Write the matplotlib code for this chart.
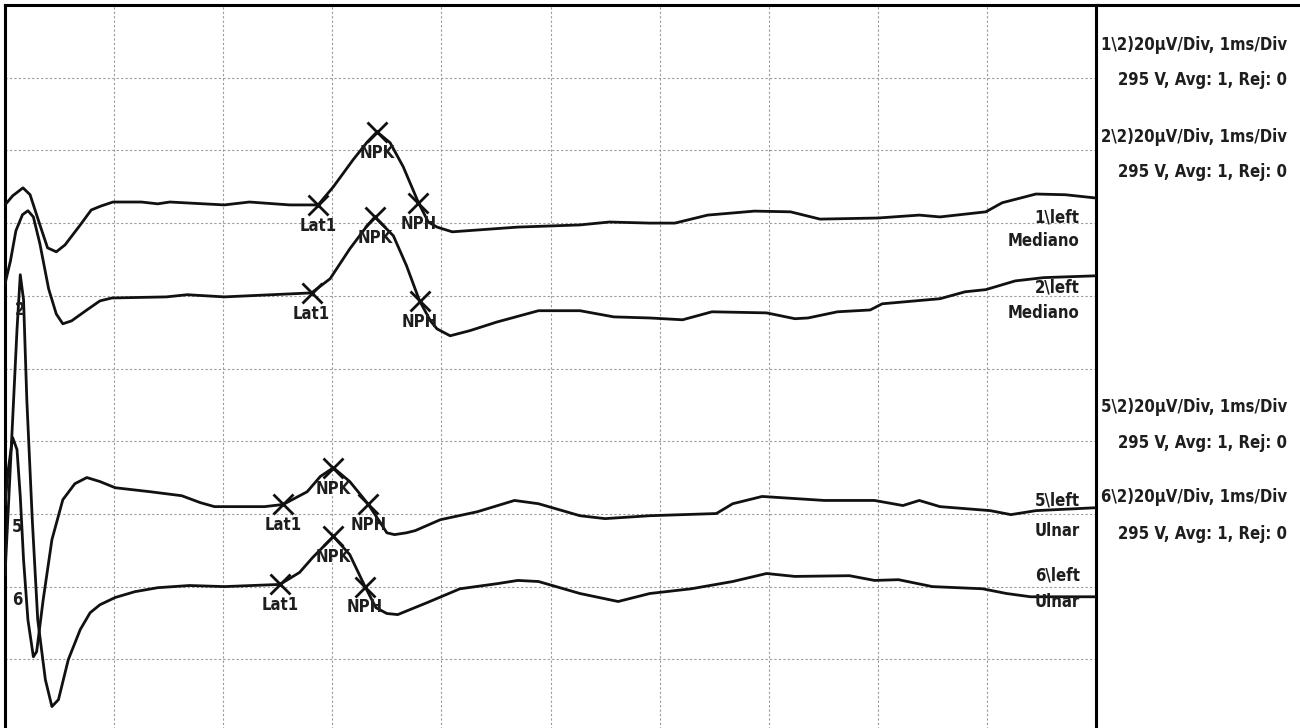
import numpy as np
import matplotlib
matplotlib.use("Agg")
import matplotlib.pyplot as plt
from matplotlib.lines import Line2D
from matplotlib import font_manager as fm

# time in ms, amplitude in uV (20 uV/div, 1 ms/div)
t1 = [0.0, 0.07, 0.165, 0.23, 0.32, 0.39, 0.47, 0.55, 0.69, 0.79, 0.88, 0.99, 1.25, 1.40, 1.51,
      2.01, 2.24, 2.61, 2.87, 3.01, 3.19, 3.32, 3.41, 3.53, 3.65, 3.79, 3.88, 3.96, 4.10, 4.33,
      4.70, 5.27, 5.54, 5.91, 6.14, 6.44, 6.87, 7.20, 7.47, 8.00, 8.38, 8.57, 8.99, 9.14, 9.45,
      9.72, 10.0]
v1 = [0, 2.5, 4.7, 2.8, -5.5, -11.8, -12.9, -11.0, -5.5, -1.4, -0.3, 0.8, 0.8, 0.3, 0.8,
      0, 0.8, 0, 0, 5.0, 12.4, 17.3, 20.1, 17.1, 10.5, 0.6, -4.7, -6.1, -7.4, -6.9,
      -6.1, -5.5, -4.7, -5.0, -5.0, -2.8, -1.7, -1.9, -3.9, -3.6, -2.8, -3.3, -1.9, 0.6, 3.0,
      2.8, 1.9]

t2 = [0.0, 0.05, 0.10, 0.16, 0.21, 0.26, 0.32, 0.40, 0.47, 0.53, 0.61, 0.75, 0.87, 0.98, 1.48,
      1.67, 2.01, 2.81, 2.98, 3.16, 3.32, 3.39, 3.56, 3.68, 3.80, 3.90, 3.96, 4.08, 4.26, 4.51,
      4.89, 5.27, 5.58, 5.91, 6.21, 6.48, 6.98, 7.24, 7.36, 7.63, 7.93, 8.04, 8.57, 8.80, 8.99,
      9.26, 9.52, 10.0]
v2 = [3.3, 9.6, 17.9, 22.3, 23.4, 21.7, 14.3, 1.9, -5.0, -7.7, -6.9, -3.9, -1.4, -0.6, -0.3,
      0.3, -0.3, 0.8, 4.7, 12.9, 19.3, 21.7, 16.5, 8.3, -1.4, -6.9, -9.1, -11.0, -9.6, -7.2,
      -4.1, -4.1, -5.8, -6.1, -6.6, -4.4, -4.7, -6.3, -6.1, -4.4, -3.9, -2.2, -0.8, 1.1, 1.7,
      4.1, 5.0, 5.5]

t5 = [0.0, 0.03, 0.07, 0.11, 0.14, 0.17, 0.21, 0.26, 0.29, 0.35, 0.43, 0.53, 0.64, 0.75, 0.87,
      1.01, 1.33, 1.62, 1.79, 1.92, 2.38, 2.55, 2.77, 2.89, 3.01, 3.16, 3.28, 3.33, 3.44, 3.50,
      3.57, 3.68, 3.76, 3.99, 4.33, 4.67, 4.89, 5.27, 5.50, 5.91, 6.52, 6.67, 6.94, 7.51, 7.97,
      8.23, 8.38, 8.57, 9.03, 9.22, 9.45, 10.0]
v5 = [0.6, 10.2, 19.0, 15.7, 2.8, -14.6, -31.1, -41.3, -39.9, -25.6, -9.1, 1.9, 6.3, 8.0, 6.9,
      5.2, 4.1, 3.0, 1.1, 0, 0, 0.6, 4.1, 8.3, 10.7, 6.9, 2.5, 0.6, -4.4, -7.2,
      -7.7, -7.2, -6.6, -3.6, -1.4, 1.7, 0.8, -2.5, -3.3, -2.5, -1.9, 0.8, 2.8, 1.7, 1.7,
      0.3, 1.7, 0, -1.1, -2.2, -1.1, -0.3]

t6 = [0.0, 0.03, 0.07, 0.11, 0.14, 0.17, 0.20, 0.25, 0.30, 0.37, 0.43, 0.49, 0.58, 0.69, 0.78,
      0.87, 1.01, 1.19, 1.40, 1.69, 2.01, 2.52, 2.70, 2.82, 3.01, 3.16, 3.30, 3.40, 3.50, 3.60,
      3.87, 4.17, 4.51, 4.70, 4.89, 5.27, 5.62, 5.91, 6.29, 6.67, 6.98, 7.24, 7.74, 7.97, 8.19,
      8.50, 8.96, 9.18, 9.40, 10.0]
v6 = [3.3, 21.2, 45.9, 70.7, 85.8, 78.9, 51.4, 18.4, -9.1, -25.6, -33.0, -31.1, -20.1, -11.8, -7.2,
      -5.0, -3.0, -1.4, -0.3, 0.3, 0, 0.6, 3.9, 8.0, 13.8, 8.8, 0, -5.8, -7.4, -7.7,
      -4.4, -0.6, 0.8, 1.7, 1.4, -1.9, -4.1, -1.9, -0.6, 1.4, 3.6, 2.8, 3.0, 1.7, 1.9,
      0, -0.6, -1.9, -2.8, -2.8]

# marker latencies (ms): Lat1, NPK, NPH
marks1 = [2.87, 3.41, 3.79]
marks2 = [2.81, 3.39, 3.80]
marks5 = [2.55, 3.01, 3.33]
marks6 = [2.52, 3.01, 3.30]
mark_names = ['Lat1', 'NPK', 'NPH']

channels = ['1', '2', '5', '6']
nerves = ['Mediano', 'Mediano', 'Ulnar', 'Ulnar']
baselines = [7.25, 6.0, 3.1, 2.0]   # trace position in divisions
uv_per_div = 20
info_line1 = [c + '\\2)20µV/Div, 1ms/Div' for c in channels]
info_line2 = '295 V, Avg: 1, Rej: 0'

# pick a narrow font if one is around, else plain Liberation Sans a bit smaller
fonts = fm.fontManager.ttflist
if any(f.name == 'Liberation Sans Narrow' for f in fonts):
    font = dict(family='Liberation Sans Narrow', fontweight='bold', fontsize=15)
elif any(f.name == 'DejaVu Sans' and f.stretch == 'condensed' for f in fonts):
    font = dict(family='DejaVu Sans', fontstretch='condensed', fontweight='bold', fontsize=12)
else:
    font = dict(family='Liberation Sans', fontweight='bold', fontsize=11.7)
tcol = '#1e1e1e'

fig = plt.figure(figsize=(13, 7.28), dpi=100)
fig.patch.set_facecolor('white')
ax = fig.add_axes([5/1300, 1 - 732/728, 1091/1300, 727/728])
ax.set_xlim(0, 10)
ax.set_ylim(0, 10)
ax.set_xticks(np.arange(0, 11))
ax.set_yticks(np.arange(0, 11))
ax.tick_params(length=0, labelbottom=False, labelleft=False)
ax.grid(True, color='#9a9a9a', lw=0.8, ls=(0, (2, 2)))
for s in ['left', 'top', 'right']:
    ax.spines[s].set_linewidth(2.2)
ax.spines['bottom'].set_visible(False)
# top border runs on over the info panel
fig.add_artist(Line2D([1096/1300, 1], [1 - 5/728, 1 - 5/728], color='k', lw=2.2))

traces = [(t1, v1, marks1), (t2, v2, marks2), (t5, v5, marks5), (t6, v6, marks6)]
for (t, v, marks), base in zip(traces, baselines):
    y = base + np.array(v) / uv_per_div
    ax.plot(t, y, color='#111111', lw=2.0, zorder=3)
    my = np.interp(marks, t, y)
    ax.plot(marks, my, ls='none', marker='x', ms=14, mew=2, color='#111111', zorder=4)
    for name, mx, yy in zip(mark_names, marks, my):
        ax.annotate(name, (mx, yy), xytext=(0, -15), textcoords='offset points',
                    ha='center', va='center', color=tcol, zorder=5, **font)

# channel numbers at the left
ax.text(0.14, 5.80, '2', ha='center', va='center', color=tcol, **font)
ax.text(0.11, 2.82, '5', ha='center', va='center', color=tcol, **font)
ax.text(0.11, 1.82, '6', ha='center', va='center', color=tcol, **font)

# side / nerve names at the right end
side_y = [(7.08, 6.75), (6.12, 5.76), (3.18, 2.76), (2.15, 1.79)]
for c, n, (ya, yb) in zip(channels, nerves, side_y):
    ax.text(9.85, ya, c + '\\left', ha='right', va='center', color=tcol, zorder=5, **font)
    ax.text(9.85, yb, n, ha='right', va='center', color=tcol, zorder=5, **font)

# acquisition info panel
info_y = [(45, 80), (137, 172), (407, 443), (497, 534)]
for txt, (ya, yb) in zip(info_line1, info_y):
    fig.text(1287/1300, 1 - ya/728, txt, ha='right', va='center', color=tcol, **font)
    fig.text(1287/1300, 1 - yb/728, info_line2, ha='right', va='center', color=tcol, **font)

fig.savefig('out.png', dpi=100, facecolor='white')
